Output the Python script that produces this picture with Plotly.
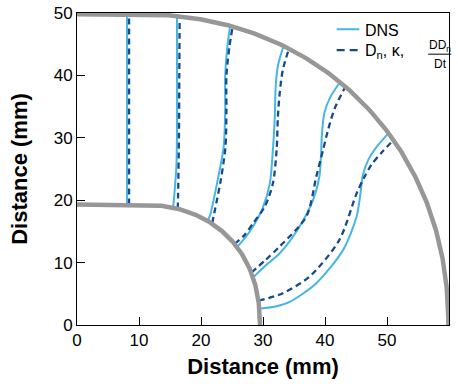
import numpy as np
import plotly.graph_objects as go

# Front positions (mm) at six instants: DNS vs. the D_n, kappa, DD_n/Dt model
dns1_x = [8.06, 8.06]
dns1_y = [19.3, 49.8]
mod1_x = [8.4, 8.4]
mod1_y = [19.3, 49.8]

dns2_x = [15.5, 15.75, 16.03, 16.13, 16.13, 16.13]
dns2_y = [18.8, 21.5, 25.4, 30.8, 41.5, 49.5]
mod2_x = [16.25, 16.3, 16.45, 16.5, 16.56]
mod2_y = [18.65, 20.6, 30.8, 40.0, 49.45]

dns3_x = [21.0, 21.4, 22.7, 23.66, 23.9, 23.9, 24.26, 24.7]
dns3_y = [16.7, 17.4, 23.3, 28.6, 34.5, 39.9, 44.7, 47.9]
mod3_x = [21.8, 23.2, 23.95, 24.1, 24.1, 24.6, 25.1]
mod3_y = [16.3, 23.3, 28.6, 34.5, 39.9, 44.7, 47.8]

dns4_x = [25.8, 26.8, 28.4, 29.9, 31.1, 31.6, 31.9, 32.05, 32.4, 33.3]
dns4_y = [12.5, 13.6, 15.8, 18.6, 22.7, 28.1, 33.4, 38.3, 41.5, 44.7]
mod4_x = [25.4, 27.0, 28.4, 30.3, 31.6, 32.2, 32.4, 32.7, 33.2, 34.2]
mod4_y = [13.0, 14.4, 16.3, 19.0, 22.7, 28.1, 33.4, 37.2, 40.9, 44.3]

dns5_x = [28.4, 30.5, 32.7, 35.9, 38.1, 39.1, 39.35, 39.5, 39.9, 40.8, 42.4]
dns5_y = [7.6, 9.6, 11.5, 15.8, 20.1, 23.8, 27.0, 30.5, 34.0, 36.4, 38.9]
mod5_x = [28.1, 30.4, 32.7, 37.0, 38.6, 39.7, 40.5, 41.6, 43.3]
mod5_y = [8.4, 10.4, 12.6, 17.4, 23.8, 28.1, 31.3, 34.8, 38.2]

dns6_x = [29.4, 32.2, 34.3, 38.6, 42.9, 45.1, 45.8, 46.1, 47.0, 48.3, 50.1]
dns6_y = [2.6, 3.0, 3.7, 6.7, 12.0, 17.4, 21.7, 24.0, 26.5, 28.5, 30.6]
mod6_x = [29.3, 33.2, 37.5, 42.3, 45.1, 46.4, 47.5, 49.1, 51.0]
mod6_y = [3.9, 5.1, 7.75, 13.6, 21.1, 23.8, 25.7, 27.6, 29.6]

dns_fronts = [(dns1_x, dns1_y), (dns2_x, dns2_y), (dns3_x, dns3_y),
              (dns4_x, dns4_y), (dns5_x, dns5_y), (dns6_x, dns6_y)]
mod_fronts = [(mod1_x, mod1_y), (mod2_x, mod2_y), (mod3_x, mod3_y),
              (mod4_x, mod4_y), (mod5_x, mod5_y), (mod6_x, mod6_y)]

# Channel walls: flat top, then a rounded bend about x = 10 mm
BEND_X = 10.0
OUTER = (49.9, 49.8, 2.1)
INNER = (19.5, 19.3, 2.25)

DNS_COLOR = "#45b6e6"
MOD_COLOR = "#17498c"
WALL_COLOR = "#979797"
FONT = "Liberation Sans, Arial, Helvetica, sans-serif"


def wall(a, b, n):
    t = np.linspace(0.0, np.pi / 2, 240)
    x = BEND_X + a * np.cos(t) ** (2.0 / n)
    y = b * np.sin(t) ** (2.0 / n)
    x = np.concatenate([[0.0], x[::-1]])
    y = np.concatenate([[b], y[::-1]])
    return x, y


fig = go.Figure()

for (mx, my), (dx, dy) in zip(mod_fronts, dns_fronts):
    fig.add_trace(go.Scatter(x=dx, y=dy, mode="lines", showlegend=False,
                             line=dict(color=DNS_COLOR, width=2, shape="spline", smoothing=0.8)))
    fig.add_trace(go.Scatter(x=mx, y=my, mode="lines", showlegend=False,
                             line=dict(color=MOD_COLOR, width=2.3, dash="6px,4px",
                                       shape="spline", smoothing=0.8)))

for a, b, n in (OUTER, INNER):
    wx, wy = wall(a, b, n)
    fig.add_trace(go.Scatter(x=wx, y=wy, mode="lines", showlegend=False,
                             line=dict(color=WALL_COLOR, width=4.5)))

# Hand-built legend (the model entry carries a stacked fraction)
fig.add_shape(type="line", xref="paper", yref="paper", x0=0.698, x1=0.759, y0=0.948, y1=0.948,
              line=dict(color=DNS_COLOR, width=2))
fig.add_shape(type="line", xref="paper", yref="paper", x0=0.698, x1=0.759, y0=0.881, y1=0.881,
              line=dict(color=MOD_COLOR, width=2.3, dash="8px,5px"))
fig.add_annotation(xref="paper", yref="paper", x=0.768, y=0.944, xanchor="left", yanchor="middle",
                   text="DNS", showarrow=False, font=dict(family=FONT, size=16, color="black"))
fig.add_annotation(xref="paper", yref="paper", x=0.768, y=0.877, xanchor="left", yanchor="middle",
                   text="D<sub>n</sub>, κ,", showarrow=False,
                   font=dict(family=FONT, size=16, color="black"))
fig.add_annotation(xref="paper", yref="paper", x=0.976, y=0.894, xanchor="center", yanchor="middle",
                   text="DD<sub>n</sub>", showarrow=False, font=dict(family=FONT, size=12, color="black"))
fig.add_annotation(xref="paper", yref="paper", x=0.976, y=0.836, xanchor="center", yanchor="middle",
                   text="Dt", showarrow=False, font=dict(family=FONT, size=12, color="black"))
fig.add_shape(type="line", xref="paper", yref="paper", x0=0.944, x1=1.006, y0=0.868, y1=0.868,
              line=dict(color="black", width=1))

axis_common = dict(showgrid=False, zeroline=False, ticks="inside", ticklen=8, tickwidth=1,
                   tickcolor="black", showline=True, linecolor="black", linewidth=1, mirror=True,
                   tickfont=dict(family=FONT, size=17, color="black"))

fig.update_xaxes(range=[0, 60], tickvals=[0, 10, 20, 30, 40, 50, 60],
                 title=dict(text="<b>Distance (mm)</b>", font=dict(family=FONT, size=22, color="black"),
                            standoff=9),
                 **axis_common)
fig.update_yaxes(range=[0, 50], tickvals=[0, 10, 20, 30, 40, 50],
                 title=dict(text="<b>Distance (mm)</b>", font=dict(family=FONT, size=22, color="black"),
                            standoff=19),
                 **axis_common)

fig.update_layout(width=458, height=390, margin=dict(l=77, r=9, t=13, b=65, autoexpand=False),
                  plot_bgcolor="white", paper_bgcolor="white", showlegend=False)

fig.write_html("out.html")
